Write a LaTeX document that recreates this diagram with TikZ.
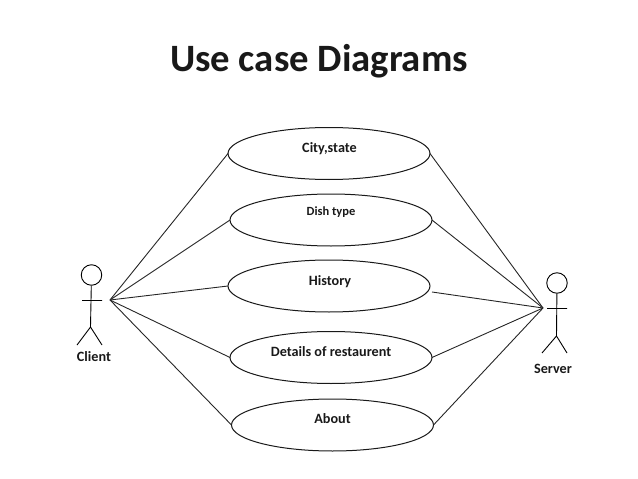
\documentclass[tikz,border=0pt]{standalone}
\usepackage{fontspec}
\setmainfont{Carlito}
\tikzset{
  uc/.style={draw=black!90,line width=1pt,ellipse,minimum width=202pt,minimum height=52pt,inner sep=0pt,outer sep=0pt},
  lbl/.style={font=\fontsize{14.2}{16}\selectfont\bfseries,text=black!90,inner sep=0pt},
  conn/.style={draw=black!85,line width=0.9pt},
  limb/.style={draw=black,line width=0.9pt},
}
\usetikzlibrary{shapes.geometric}
\begin{document}
\begin{tikzpicture}[x=1pt,y=-1pt]
\useasboundingbox (0,0) rectangle (638,479);
\node[font=\fontsize{38.7}{44}\selectfont\bfseries,text=black!90,inner sep=0pt] (title) at (319,61) {Use case Diagrams};
\node[uc] (e1) at (329,153.5) {};
\node[uc] (e2) at (331,220) {};
\node[uc] (e3) at (329,286) {};
\node[uc] (e4) at (331,357.5) {};
\node[uc] (e5) at (332.5,425) {};
\node[lbl] (t1) at (329.5,148.5) {City,state};
\node[lbl,font=\fontsize{12.5}{14}\selectfont\bfseries] (t2) at (331,212.5) {Dish type};
\node[lbl] (t3) at (330,281.5) {History};
\node[lbl] (t4) at (331,352) {Details of restaurent};
\node[lbl] (t5) at (332.5,419) {About};
% client actor
\coordinate (hl) at (110,300);
\node[draw=black,line width=0.9pt,circle,minimum size=20.5pt,inner sep=0pt] (hc) at (91.5,275) {};
\coordinate (cw) at (82,300.5);
\coordinate (ce) at (102,300.5);
\coordinate (cn) at (90.5,327);
\coordinate (cf1) at (77,345);
\coordinate (cf2) at (102,345);
\draw[limb] (hc) -- (cn) (cw) -- (ce) (cf1) -- (cn) -- (cf2);
\node[lbl] (client) at (94,357) {Client};
% server actor
\coordinate (hr) at (543,308);
\node[draw=black,line width=0.9pt,circle,minimum size=20.5pt,inner sep=0pt] (hs) at (557,283) {};
\coordinate (sw) at (547,308.5);
\coordinate (se) at (567,308.5);
\coordinate (sn) at (556.5,336);
\coordinate (sf1) at (542,353);
\coordinate (sf2) at (567,353);
\draw[limb] (hs) -- (sn) (sw) -- (se) (sf1) -- (sn) -- (sf2);
\node[lbl] (server) at (553,369) {Server};
% connectors
\draw[conn] (hl) -- (e1.west);
\draw[conn] (hl) -- (e2.west);
\draw[conn] (hl) -- (e3.west);
\draw[conn] (hl) -- (e4.west);
\draw[conn] (hl) -- (e5.west);
\draw[conn] (hr) -- (e1.east);
\draw[conn] (hr) -- (e2.east);
\draw[conn] (hr) -- ([xshift=2pt,yshift=-6pt]e3.east);
\draw[conn] (hr) -- (e4.east);
\draw[conn] (hr) -- (e5.east);
\end{tikzpicture}
\end{document}
